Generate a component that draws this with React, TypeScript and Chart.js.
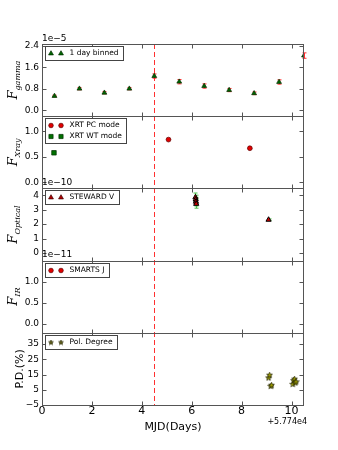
import { useEffect, useRef } from "react";
import { Chart, registerables } from "chart.js";
Chart.register(...registerables);

// ---- data (y values in units of the axis offset shown on each panel) ----
const gammaX = [0.5, 1.5, 2.5, 3.5, 4.5, 5.5, 6.5, 7.5, 8.5, 9.5, 10.5];
const gammaY = [0.53, 0.8, 0.65, 0.8, 1.27, 1.06, 0.9, 0.75, 0.63, 1.05, 2.03];
const gammaErr = [0.03, 0.04, 0.04, 0.04, 0.08, 0.08, 0.08, 0.06, 0.05, 0.08, 0.1];

const xrtPcX = [5.07, 8.33];
const xrtPcY = [0.84, 0.67];
const xrtWtX = [0.48];
const xrtWtY = [0.58];

const optX = [6.15, 6.16, 6.17, 6.18, 9.08];
const optY = [3.85, 3.7, 3.55, 3.4, 2.3];
const optErr = [0.3, 0.3, 0.3, 0.3, 0.06];

const pdX = [9.08, 9.12, 9.17, 9.2, 10.05, 10.08, 10.12, 10.15, 10.18];
const pdY = [12.8, 14.6, 7.3, 8.0, 8.6, 11.0, 12.0, 9.5, 10.2];

const xTicks = [0, 2, 4, 6, 8, 10];
const gammaTicks = [0, 0.8, 1.6, 2.4];
const xrayTicks = [0, 0.5, 1.0];
const optTicks = [0, 1, 2, 3, 4];
const irTicks = [0, 0.5, 1.0];
const pdTicks = [-5, 5, 15, 25, 35];
const flareDay = 4.5;

const SANS = "'DejaVu Sans', sans-serif";
const SERIF = "'DejaVu Serif', serif";

function makeStar(size: number, fill: string, stroke: string) {
  const c = document.createElement("canvas");
  c.width = size;
  c.height = size;
  const g = c.getContext("2d")!;
  const cx = size / 2, cy = size / 2, R = size / 2 - 0.5, r = R * 0.42;
  g.beginPath();
  for (let i = 0; i < 10; i++) {
    const a = -Math.PI / 2 + (i * Math.PI) / 5;
    const rr = i % 2 === 0 ? R : r;
    const px = cx + rr * Math.cos(a), py = cy + rr * Math.sin(a);
    i === 0 ? g.moveTo(px, py) : g.lineTo(px, py);
  }
  g.closePath();
  g.fillStyle = fill;
  g.fill();
  g.strokeStyle = stroke;
  g.lineWidth = 0.8;
  g.stroke();
  return c;
}

const fmt1 = (v: number) => v.toFixed(1);
const fmtInt = (v: number) => (v < 0 ? "\u2212" + Math.abs(v) : String(v));

const panels = [
  { id: "yG", min: -0.22, max: 2.46, ticks: gammaTicks, fmt: fmt1, weight: 5, offset: "1e\u22125", label: ["F", "gamma"] },
  { id: "yX", min: -0.12, max: 1.3, ticks: xrayTicks, fmt: fmt1, weight: 4, offset: "", label: ["F", "Xray"] },
  { id: "yO", min: -0.53, max: 4.47, ticks: optTicks, fmt: fmtInt, weight: 3, offset: "1e\u221210", label: ["F", "Optical"] },
  { id: "yI", min: -0.21, max: 1.5, ticks: irTicks, fmt: fmt1, weight: 2, offset: "1e\u221211", label: ["F", "IR"] },
  { id: "yP", min: -5, max: 42.4, ticks: pdTicks, fmt: fmtInt, weight: 1, offset: "", label: ["P.D.(%)", ""] },
];

function drawMarker(ctx: CanvasRenderingContext2D, kind: string, x: number, y: number, fill: string, stroke: string, star?: HTMLCanvasElement) {
  ctx.save();
  ctx.fillStyle = fill;
  ctx.strokeStyle = stroke;
  ctx.lineWidth = 0.7;
  ctx.beginPath();
  if (kind === "tri") {
    const r = 2.8;
    ctx.moveTo(x, y - r);
    ctx.lineTo(x + r * 0.87, y + r * 0.5);
    ctx.lineTo(x - r * 0.87, y + r * 0.5);
    ctx.closePath();
    ctx.fill();
    ctx.stroke();
  } else if (kind === "circ") {
    ctx.arc(x, y, 2.3, 0, Math.PI * 2);
    ctx.fill();
    ctx.stroke();
  } else if (kind === "sq") {
    ctx.rect(x - 2.1, y - 2.1, 4.2, 4.2);
    ctx.fill();
    ctx.stroke();
  } else if (kind === "star" && star) {
    ctx.drawImage(star, x - star.width / 2, y - star.height / 2);
  }
  ctx.restore();
}

export default function App() {
  const ref = useRef<HTMLCanvasElement | null>(null);

  useEffect(() => {
    if (!ref.current) return;
    const star = makeStar(7, "#a8a800", "#2a2a00");
    const legendStar = makeStar(6, "#6b6b1a", "#2a2a00");

    const errPlugin = {
      id: "errbars",
      beforeDatasetsDraw(chart: any) {
        const { ctx, chartArea, scales } = chart;
        const xs = scales.x;
        const bars = (xv: number[], yv: number[], ev: number[], sc: any, color: string) => {
          ctx.save();
          ctx.strokeStyle = color;
          ctx.lineWidth = 1;
          for (let i = 0; i < xv.length; i++) {
            const px = Math.round(xs.getPixelForValue(xv[i])) + 0.5;
            const p1 = sc.getPixelForValue(yv[i] + ev[i]);
            const p2 = sc.getPixelForValue(yv[i] - ev[i]);
            ctx.beginPath();
            ctx.moveTo(px, p1);
            ctx.lineTo(px, p2);
            ctx.moveTo(px - 2, p1);
            ctx.lineTo(px + 2, p1);
            ctx.moveTo(px - 2, p2);
            ctx.lineTo(px + 2, p2);
            ctx.stroke();
          }
          ctx.restore();
        };
        bars(gammaX, gammaY, gammaErr, scales.yG, "#ff3030");
        bars(optX, optY, optErr, scales.yO, "#4cc04c");
        // flare marker line
        const fx = Math.round(xs.getPixelForValue(flareDay)) + 0.5;
        ctx.save();
        ctx.strokeStyle = "#ff3030";
        ctx.lineWidth = 1;
        ctx.setLineDash([5, 3]);
        ctx.beginPath();
        ctx.moveTo(fx, chartArea.top);
        ctx.lineTo(fx, chartArea.bottom);
        ctx.stroke();
        ctx.restore();
      },
      afterDatasetsDraw(chart: any) {
        const { ctx, chartArea, scales } = chart;
        const xs = scales.x;
        const L = chartArea.left, R = chartArea.right;
        ctx.save();
        ctx.strokeStyle = "#555";
        ctx.lineWidth = 1;
        for (const p of panels) {
          const sc = scales[p.id];
          const T = Math.round(sc.top) + 0.5, B = Math.round(sc.bottom) + 0.5;
          const l = Math.round(L) + 0.5, r = Math.round(R) - 0.5;
          ctx.strokeRect(l, T, r - l, B - T);
          ctx.beginPath();
          for (const t of xTicks) {
            const px = Math.round(xs.getPixelForValue(t)) + 0.5;
            ctx.moveTo(px, T);
            ctx.lineTo(px, T + 4);
            ctx.moveTo(px, B);
            ctx.lineTo(px, B - 4);
          }
          for (const t of p.ticks) {
            const py = Math.round(sc.getPixelForValue(t)) + 0.5;
            ctx.moveTo(l, py);
            ctx.lineTo(l + 4, py);
            ctx.moveTo(r, py);
            ctx.lineTo(r - 4, py);
          }
          ctx.stroke();
        }
        ctx.restore();

        // offset texts
        ctx.save();
        ctx.fillStyle = "#000";
        ctx.font = `9px ${SANS}`;
        ctx.textAlign = "left";
        ctx.textBaseline = "bottom";
        for (const p of panels) {
          if (!p.offset) continue;
          ctx.fillText(p.offset, L, scales[p.id].top - 1);
        }
        ctx.font = `8px ${SANS}`;
        ctx.textAlign = "right";
        ctx.textBaseline = "middle";
        ctx.fillText("+5.774e4", R + 3, 422);
        ctx.restore();

        // y labels
        for (const p of panels) {
          const sc = scales[p.id];
          const cy = (sc.top + sc.bottom) / 2;
          ctx.save();
          ctx.fillStyle = "#000";
          if (p.label[1]) {
            ctx.translate(17, cy);
            ctx.rotate(-Math.PI / 2);
            ctx.font = `italic 13px ${SERIF}`;
            const wF = ctx.measureText(p.label[0]).width;
            ctx.font = `italic 8px ${SERIF}`;
            const wS = ctx.measureText(p.label[1]).width;
            const x0 = -(wF + wS) / 2;
            ctx.font = `italic 13px ${SERIF}`;
            ctx.textBaseline = "alphabetic";
            ctx.fillText(p.label[0], x0, 0);
            ctx.font = `italic 8px ${SERIF}`;
            ctx.fillText(p.label[1], x0 + wF, 3);
          } else {
            ctx.translate(20, cy);
            ctx.rotate(-Math.PI / 2);
            ctx.font = `11px ${SANS}`;
            ctx.textAlign = "center";
            ctx.textBaseline = "middle";
            ctx.fillText(p.label[0], 0, 0);
          }
          ctx.restore();
        }

        // legends
        const legend = (sc: any, rows: { kind: string; fill: string; stroke: string; text: string }[]) => {
          const top = Math.round(sc.top) + 2.5;
          ctx.save();
          ctx.font = `7.5px ${SANS}`;
          let w = 0;
          for (const r of rows) w = Math.max(w, ctx.measureText(r.text).width);
          const bw = Math.round(24 + w + 5), bh = rows.length * 11 + 3;
          const bx = Math.round(L) + 3.5;
          ctx.fillStyle = "#fff";
          ctx.fillRect(bx, top, bw, bh);
          ctx.strokeStyle = "#444";
          ctx.lineWidth = 1;
          ctx.strokeRect(bx, top, bw, bh);
          rows.forEach((r, i) => {
            const y = top + 7 + i * 11;
            drawMarker(ctx, r.kind, bx + 5.5, y, r.fill, r.stroke, legendStar);
            drawMarker(ctx, r.kind, bx + 15.5, y, r.fill, r.stroke, legendStar);
            ctx.fillStyle = "#000";
            ctx.textAlign = "left";
            ctx.textBaseline = "middle";
            ctx.fillText(r.text, bx + 24, y);
          });
          ctx.restore();
        };
        legend(scales.yG, [{ kind: "tri", fill: "#006400", stroke: "#003000", text: "1 day binned" }]);
        legend(scales.yX, [
          { kind: "circ", fill: "#e00000", stroke: "#600000", text: "XRT PC mode" },
          { kind: "sq", fill: "#007000", stroke: "#003000", text: "XRT WT mode" },
        ]);
        legend(scales.yO, [{ kind: "tri", fill: "#b00000", stroke: "#400000", text: "STEWARD V" }]);
        legend(scales.yI, [{ kind: "circ", fill: "#e00000", stroke: "#600000", text: "SMARTS J" }]);
        legend(scales.yP, [{ kind: "star", fill: "", stroke: "", text: "Pol. Degree" }]);
      },
    };

    const pts = (xv: number[], yv: number[]) => xv.map((x, i) => ({ x, y: yv[i] }));

    const yScales: any = {};
    for (const p of panels) {
      yScales[p.id] = {
        type: "linear",
        position: "left",
        stack: "panels",
        stackWeight: 1,
        weight: p.weight,
        min: p.min,
        max: p.max,
        afterBuildTicks: (s: any) => {
          s.ticks = p.ticks.map((v) => ({ value: v }));
        },
        afterFit: (s: any) => {
          s.width = 42;
        },
        grid: { display: false, drawTicks: false },
        border: { display: false },
        ticks: {
          autoSkip: false,
          padding: 3,
          color: "#000",
          font: { family: SANS, size: 9 },
          callback: (v: any) => p.fmt(Number(v)),
        },
      };
    }

    const chart = new Chart(ref.current, {
      type: "scatter",
      data: {
        datasets: [
          {
            label: "1 day binned",
            data: pts(gammaX, gammaY),
            yAxisID: "yG",
            pointStyle: "triangle",
            pointRadius: 2.8,
            backgroundColor: "#006400",
            borderColor: "#003000",
            borderWidth: 0.7,
          },
          {
            label: "XRT PC mode",
            data: pts(xrtPcX, xrtPcY),
            yAxisID: "yX",
            pointStyle: "circle",
            pointRadius: 2.4,
            backgroundColor: "#e00000",
            borderColor: "#600000",
            borderWidth: 0.7,
          },
          {
            label: "XRT WT mode",
            data: pts(xrtWtX, xrtWtY),
            yAxisID: "yX",
            pointStyle: "rect",
            pointRadius: 3.2,
            backgroundColor: "#007000",
            borderColor: "#003000",
            borderWidth: 0.7,
          },
          {
            label: "STEWARD V",
            data: pts(optX, optY),
            yAxisID: "yO",
            pointStyle: "triangle",
            pointRadius: 3,
            backgroundColor: "#d00000",
            borderColor: "#000",
            borderWidth: 1,
          },
          {
            label: "Pol. Degree",
            data: pts(pdX, pdY),
            yAxisID: "yP",
            pointStyle: star as any,
            pointRadius: 3.5,
          },
        ],
      },
      options: {
        responsive: false,
        animation: false,
        layout: { padding: { top: 44, right: 34, left: 0, bottom: 0 } },
        plugins: { legend: { display: false }, tooltip: { enabled: false } },
        scales: {
          x: {
            type: "linear",
            position: "bottom",
            min: 0,
            max: 10.5,
            afterBuildTicks: (s: any) => {
              s.ticks = xTicks.map((v) => ({ value: v }));
            },
            afterFit: (s: any) => {
              s.height = 45;
            },
            grid: { display: false, drawTicks: false },
            border: { display: false },
            ticks: { autoSkip: false, padding: 0, color: "#000", font: { family: SANS, size: 11 }, maxRotation: 0 },
            title: {
              display: true,
              text: "MJD(Days)",
              color: "#000",
              font: { family: SANS, size: 11 },
              padding: { top: 0, bottom: 16 },
            },
          },
          ...yScales,
        },
      },
      plugins: [errPlugin],
    });
    return () => chart.destroy();
  }, []);

  return (
    <div style={{ position: "absolute", left: 0, top: 0, width: 338, height: 450, background: "#fff" }}>
      <canvas ref={ref} width={338} height={450} style={{ width: 338, height: 450 }} />
    </div>
  );
}
